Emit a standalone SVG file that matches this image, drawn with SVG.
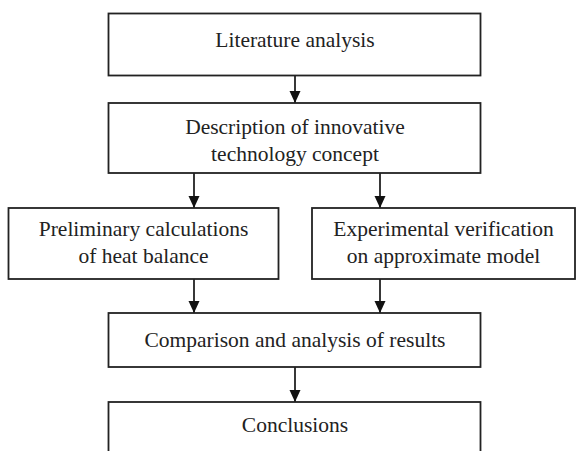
<svg xmlns="http://www.w3.org/2000/svg" width="576" height="451" viewBox="0 0 576 451">
<defs>
<style>
.box{fill:#fff;stroke:#222;stroke-width:1.8}
.t{font-family:"Liberation Serif","Times New Roman",serif;font-size:21.5px;fill:#222;text-anchor:middle}
.c{stroke:#222;stroke-width:1.8;fill:none;marker-end:url(#ah)}
</style>
<marker id="ah" viewBox="0 0 12 12" refX="12" refY="6" markerWidth="12" markerHeight="12" markerUnits="userSpaceOnUse" orient="auto">
<path d="M0,0.5 L12,6 L0,11.5 Z" fill="#111"/>
</marker>
</defs>
<rect width="576" height="451" fill="#fff"/>
<g id="connectors">
<path class="c" d="M295,76 V103"/>
<path class="c" d="M194,173 V208"/>
<path class="c" d="M380,173 V208"/>
<path class="c" d="M194,279 V313"/>
<path class="c" d="M380,279 V313"/>
<path class="c" d="M295,367 V402"/>
</g>
<g id="n1">
<rect class="box" x="108.5" y="13.5" width="372" height="62"/>
<text class="t" x="295" y="47">Literature analysis</text>
</g>
<g id="n2">
<rect class="box" x="108.5" y="103" width="372" height="70"/>
<text class="t" x="295" y="134">Description of innovative</text>
<text class="t" x="295" y="161">technology concept</text>
</g>
<g id="n3">
<rect class="box" x="8.5" y="208" width="270" height="71"/>
<text class="t" x="143.5" y="236">Preliminary calculations</text>
<text class="t" x="143.5" y="263">of heat balance</text>
</g>
<g id="n4">
<rect class="box" x="312" y="208" width="263" height="71"/>
<text class="t" x="443.5" y="236">Experimental verification</text>
<text class="t" x="443.5" y="263">on approximate model</text>
</g>
<g id="n5">
<rect class="box" x="108.5" y="313" width="372" height="54"/>
<text class="t" x="295" y="347">Comparison and analysis of results</text>
</g>
<g id="n6">
<rect class="box" x="108.5" y="402" width="372" height="70"/>
<text class="t" x="295" y="432">Conclusions</text>
</g>
</svg>
